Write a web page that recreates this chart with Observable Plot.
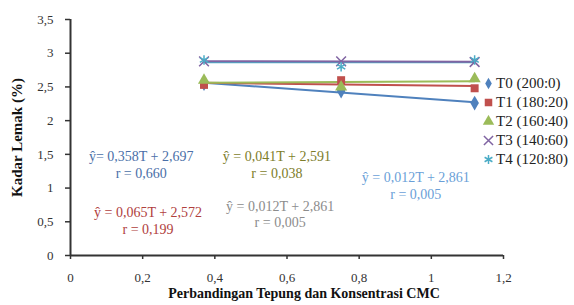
<!DOCTYPE html>
<html>
<head>
<meta charset="utf-8">
<script src="https://cdn.jsdelivr.net/npm/d3@7"></script>
<script src="https://cdn.jsdelivr.net/npm/@observablehq/plot@0.6"></script>
<style>
  body { margin: 0; background: white; }
  #wrap { position: relative; width: 574px; height: 305px; font-family: "Liberation Serif", serif; }
  #legend { position: absolute; left: 482px; top: 74px; }
  .item { display: flex; align-items: center; height: 19px; font-size: 15px; color: #222; white-space: nowrap; }
  .item svg { margin-right: 1px; }
</style>
</head>
<body>
<div id="wrap"><div id="legend"></div></div>
<script>
// ---- data ----
const ratios = [0.37, 0.75, 1.12];
const seriesNames = ["T0 (200:0)", "T1 (180:20)", "T2 (160:40)", "T3 (140:60)", "T4 (120:80)"];
const t0 = [2.55, 2.44, 2.26];
const t1 = [2.53, 2.60, 2.48];
const t2 = [2.60, 2.50, 2.62];
const t3 = [2.88, 2.88, 2.87];
const t4 = [2.90, 2.80, 2.90];
const xTicks = [0, 0.2, 0.4, 0.6, 0.8, 1, 1.2];
const yTicks = [0, 0.5, 1, 1.5, 2, 2.5, 3, 3.5];
const eqLines = [
  "ŷ= 0,358T + 2,697\nr = 0,660",
  "ŷ = 0,041T + 2,591\nr = 0,038",
  "ŷ = 0,065T + 2,572\nr = 0,199",
  "ŷ = 0,012T + 2,861\nr = 0,005",
  "ŷ = 0,012T + 2,861\nr = 0,005"
];
const eqX = [0.196, 0.572, 0.215, 0.581, 0.957];
const eqY = [1.36, 1.36, 0.52, 0.62, 1.04];

// ---- styles ----
const colors = ["#4F81BD", "#C0504D", "#9BBB59", "#8064A2", "#4BACC6"];
const symbols = ["diamond", "square", "triangle", "times", "asterisk"];
const eqColors = ["#4a6fa8", "#7d7d2a", "#b0403d", "#8c8c8c", "#6a9fd8"];
const lineOrder = [4, 0, 1, 2, 3];

const allVals = [t0, t1, t2, t3, t4];
const rows = [];
allVals.forEach((vals, i) => vals.forEach((v, j) => rows.push({series: seriesNames[i], x: ratios[j], y: v, idx: i})));
const filled = rows.filter(d => d.idx < 3);
const stroked = rows.filter(d => d.idx >= 3);
const eqs = eqLines.map((t, i) => ({t, x: eqX[i], y: eqY[i], c: eqColors[i]}));
const fmt = d => String(d).replace(".", ",");

const trendMarks = lineOrder.map(i =>
  Plot.linearRegressionY(rows.filter(d => d.idx === i), {x: "x", y: "y", stroke: "series", strokeWidth: 2, ci: 0})
);

const chart = Plot.plot({
  width: 574, height: 305,
  marginLeft: 70, marginRight: 71, marginTop: 19, marginBottom: 50,
  x: {domain: [0, 1.2]},
  y: {domain: [0, 3.5]},
  color: {domain: seriesNames, range: colors},
  symbol: {domain: seriesNames, range: symbols},
  style: {fontFamily: "Liberation Serif", fontSize: "13px", color: "#333", background: "white"},
  marks: [
    Plot.axisX({ticks: xTicks, tickFormat: fmt, tickSize: 4, tickPadding: 13, label: null, fontSize: 13, stroke: "#333", strokeWidth: 1.5}),
    Plot.axisY({ticks: yTicks, tickFormat: fmt, tickSize: 5, tickPadding: 12, label: null, fontSize: 13, stroke: "#333", strokeWidth: 1.5}),
    Plot.ruleY([0], {stroke: "#333", strokeWidth: 2}),
    Plot.ruleX([0], {stroke: "#333", strokeWidth: 2}),
    ...trendMarks,
    Plot.dot(filled, {x: "x", y: "y", symbol: "series", fill: "series", r: 4.5}),
    Plot.dot(stroked, {x: "x", y: "y", symbol: "series", stroke: "series", r: 4.5, strokeWidth: 1.5}),
    Plot.text(eqs, {x: "x", y: "y", text: "t", fill: "c", fontSize: 14, lineHeight: 1.2, lineAnchor: "middle", textAnchor: "middle"}),
    Plot.text(["Perbandingan Tepung dan Konsentrasi CMC"], {frameAnchor: "bottom", textAnchor: "middle", dy: 42, dx: 17, fontSize: 14, fontWeight: "bold", fill: "#111", style: "letter-spacing:1.3px"}),
    Plot.text(["Kadar Lemak (%)"], {frameAnchor: "left", textAnchor: "middle", dx: -53, rotate: -90, fontSize: 15, fontWeight: "bold", fill: "#111", style: "letter-spacing:2px"})
  ]
});
document.getElementById("wrap").prepend(chart);

// legend
const leg = document.getElementById("legend");
const d3sym = [d3.symbolDiamond, d3.symbolSquare, d3.symbolTriangle, d3.symbolTimes, d3.symbolAsterisk];
seriesNames.forEach((name, i) => {
  const item = document.createElement("div");
  item.className = "item";
  const s = d3.create("svg").attr("width", 13).attr("height", 13);
  const p = s.append("path").attr("transform", "translate(6.5,6.5)")
    .attr("d", d3.symbol(d3sym[i], Math.PI * (i === 0 ? 12 : 18))());
  if (i < 3) p.attr("fill", colors[i]); else p.attr("fill", "none").attr("stroke", colors[i]).attr("stroke-width", 1.5);
  item.appendChild(s.node());
  const span = document.createElement("span");
  span.textContent = name;
  item.appendChild(span);
  leg.appendChild(item);
});
</script>
</body>
</html>
